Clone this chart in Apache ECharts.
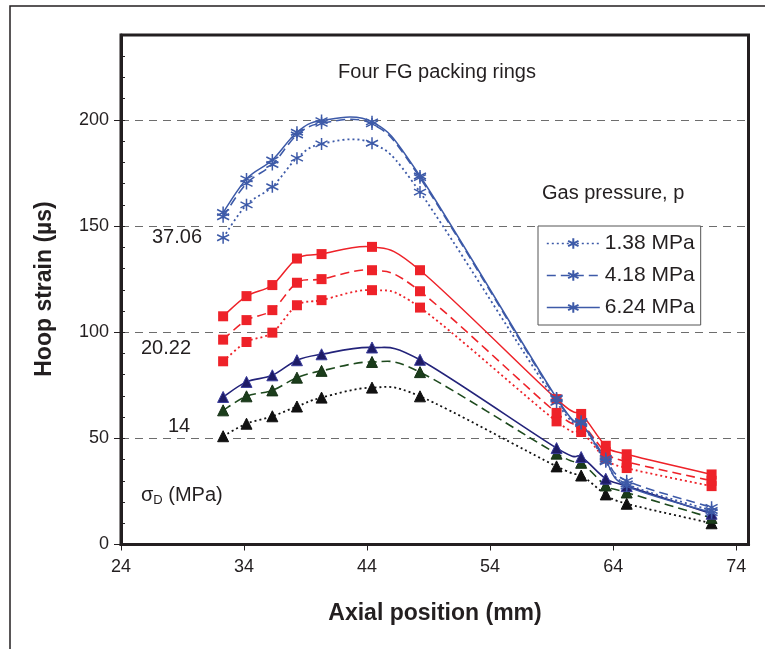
<!DOCTYPE html>
<html>
<head>
<meta charset="utf-8">
<script src="https://cdn.jsdelivr.net/npm/echarts@6/dist/echarts.min.js"></script>
<style>html,body{margin:0;padding:0;background:#fff}#c{width:765px;height:649px}</style>
</head>
<body>
<div id="c"></div>
<script>
// ---- data ----
const axialPos = [32.3, 34.2, 36.3, 38.3, 40.3, 44.4, 48.3, 59.4, 61.4, 63.4, 65.1, 72.0];
// sigma_D = 37.06 MPa (stars)
const s37_p138 = [144.5, 160, 168.5, 182, 188.7, 189, 166, 67, 57, 39, 28.5, 16];
const s37_p418 = [154.4, 170.1, 179, 192.9, 198.4, 198.1, 172.8, 68.5, 58, 40.5, 30, 17.5];
const s37_p624 = [156.4, 172.2, 181.1, 194.2, 199.7, 199.1, 173.6, 69, 57.5, 39.5, 27.5, 15];
// sigma_D = 20.22 MPa (squares)
const s20_p138 = [86.3, 95.4, 99.8, 112.7, 115.1, 119.8, 111.6, 58, 53, 40.5, 36, 27.5];
const s20_p418 = [96.5, 105.7, 110.4, 123.3, 125, 129.2, 119.3, 62, 57, 43.5, 39, 30];
const s20_p624 = [107.5, 117, 122.2, 134.7, 136.8, 140.2, 129.2, 68.5, 61.5, 46.5, 42.5, 33];
// sigma_D = 14 MPa (triangles)
const s14_p138 = [51, 56.9, 60.4, 65, 69.2, 73.9, 69.8, 36.8, 32.5, 23.6, 19.2, 10];
const s14_p418 = [63.2, 69.8, 72.6, 78.6, 81.8, 86, 81.2, 42.8, 38.5, 27.8, 24.5, 12.5];
const s14_p624 = [69.5, 76.6, 79.7, 86.8, 89.6, 92.8, 87, 45.4, 41.2, 31, 27.5, 14.5];
const pressureNames = ['1.38 MPa', '4.18 MPa', '6.24 MPa'];
const xTicks = [24, 34, 44, 54, 64, 74];
const yTicks = [0, 50, 100, 150, 200];
const yMinorTicks = [0,10,20,30,40,50,60,70,80,90,100,110,120,130,140,150,160,170,180,190,200,210,220,230];

// ---- layout / style ----
const G = {left: 121, top: 35, right: 16.5, bottom: 104.5};
const W = 765, H = 649;
const FONT = '"Liberation Sans", Arial, sans-serif';
const TXT = '#231f20';
const BLUE = '#3d5aa8', RED = '#ee2229';
const STAR = 'path://M5,0L5,10M0.67,2.5L9.33,7.5M0.67,7.5L9.33,2.5';
const DOT = [2, 3], DASH = [9, 5];

function pts(ys){ return axialPos.map((x,i)=>[x, ys[i]]); }

// Smoothed (Excel-like, Catmull-Rom) curve drawn through the data via the axis scales
function curve(ys, color, dash, width, z){
  return {type:'custom', silent:true, z, data: pts(ys), clip:true,
    renderItem: function(params, api){
      if (params.dataIndex !== 0) return null;
      const P = axialPos.map((x,i)=>api.coord([x, ys[i]]));
      const n = P.length;
      let d = 'M' + P[0][0].toFixed(2) + ' ' + P[0][1].toFixed(2);
      for (let i = 0; i < n - 1; i++){
        const p0 = P[Math.max(i-1,0)], p1 = P[i], p2 = P[i+1], p3 = P[Math.min(i+2,n-1)];
        const c1 = [p1[0] + (p2[0]-p0[0])/6, p1[1] + (p2[1]-p0[1])/6];
        const c2 = [p2[0] - (p3[0]-p1[0])/6, p2[1] - (p3[1]-p1[1])/6];
        d += ' C' + c1[0].toFixed(2) + ' ' + c1[1].toFixed(2) + ' ' + c2[0].toFixed(2) + ' ' + c2[1].toFixed(2) + ' ' + p2[0].toFixed(2) + ' ' + p2[1].toFixed(2);
      }
      return {type:'path', shape:{pathData:d}, style:{fill:'none', stroke:color, lineWidth:width, lineDash: dash === 'solid' ? null : dash}};
    }};
}
function marks(name, ys, dash, lineColor, symbol, size, itemStyle, z){
  return {name, type:'line', data: pts(ys), z,
    symbol, symbolSize: size, itemStyle,
    lineStyle:{color: lineColor, width: 1.6, type: dash, opacity: 0}};
}

const starStyle = {color: BLUE, borderColor: BLUE, borderWidth: 1.5};
const sqStyle = {color: RED, borderWidth: 0};

const chart = echarts.init(document.getElementById('c'), null, {renderer:'canvas'});
chart.setOption({
  backgroundColor:'#fff',
  animation:false,
  grid:{left:G.left, top:G.top, right:G.right, bottom:G.bottom, containLabel:false},
  xAxis:{type:'value', min:24, max:75, interval:10,
    axisLine:{show:true, lineStyle:{color:TXT, width:3}},
    axisTick:{show:true, customValues: xTicks, length:6, lineStyle:{color:TXT, width:1}},
    axisLabel:{customValues: xTicks, color:TXT, fontSize:18, fontFamily:FONT, margin:14},
    splitLine:{show:false}},
  yAxis:[
    {type:'value', min:0, max:240, interval:50,
      axisLine:{show:true, lineStyle:{color:TXT, width:3}},
      axisTick:{show:true, customValues: yTicks, length:7, lineStyle:{color:TXT, width:1}},
      axisLabel:{customValues: yTicks, color:TXT, fontSize:18, fontFamily:FONT, margin:12},
      splitLine:{show:true, lineStyle:{color:'#6d6d6d', width:1, type:[8,6]}}},
    {type:'value', min:0, max:240, interval:10, position:'left',
      axisLine:{show:false},
      axisTick:{show:true, inside:true, customValues: yMinorTicks, length:4, lineStyle:{color:TXT, width:1}},
      axisLabel:{show:false}, splitLine:{show:false}}
  ],
  legend:{data: pressureNames, orient:'vertical', left:538, top:226,
    padding:[7,6,7,8], itemWidth:53, itemHeight:13, itemGap:11,
    borderColor:'#555', borderWidth:1, backgroundColor:'#fff',
    lineStyle:{opacity:1, width:1.6},
    textStyle:{color:TXT, fontSize:21, fontFamily:FONT, lineHeight:21}},
  graphic:[
    {type:'rect', z:100, silent:true, shape:{x:G.left, y:G.top, width:W-G.left-G.right, height:H-G.top-G.bottom},
      style:{fill:'none', stroke:TXT, lineWidth:3}},
    {type:'rect', z:100, silent:true, shape:{x:10, y:6, width:900, height:800},
      style:{fill:'none', stroke:TXT, lineWidth:1.5}},
    {type:'text', z:100, x:437, y:72, style:{text:'Four FG packing rings', font:'20px '+FONT, fill:TXT, align:'center', verticalAlign:'middle'}},
    {type:'text', z:100, x:542, y:193, style:{text:'Gas pressure, p', font:'20px '+FONT, fill:TXT, align:'left', verticalAlign:'middle'}},
    {type:'text', z:100, x:152, y:237, style:{text:'37.06', font:'20px '+FONT, fill:TXT, align:'left', verticalAlign:'middle'}},
    {type:'text', z:100, x:141, y:348, style:{text:'20.22', font:'20px '+FONT, fill:TXT, align:'left', verticalAlign:'middle'}},
    {type:'text', z:100, x:168, y:426, style:{text:'14', font:'20px '+FONT, fill:TXT, align:'left', verticalAlign:'middle'}},
    {type:'text', z:100, x:141, y:495, style:{text:'{s|σ}{d|D}{s| (MPa)}', fill:TXT, align:'left', verticalAlign:'middle',
      rich:{s:{fontSize:20, fontFamily:FONT, fill:TXT, color:TXT}, d:{fontSize:13, fontFamily:FONT, fill:TXT, color:TXT, padding:[10,0,0,0]}}}},
    {type:'text', z:100, x:435, y:614, style:{text:'Axial position (mm)', font:'bold 23px '+FONT, fill:TXT, align:'center', verticalAlign:'middle'}},
    {type:'text', z:100, x:45, y:289, rotation:Math.PI/2, style:{text:'Hoop strain (µs)', font:'bold 23px '+FONT, fill:TXT, align:'center', verticalAlign:'middle'}}
  ],
  series:[
    curve(s14_p138, '#111111', DOT, 1.8, 2),
    curve(s14_p418, '#1e4a1e', DASH, 1.6, 2),
    curve(s14_p624, '#23237a', 'solid', 1.6, 2),
    curve(s20_p138, RED, DOT, 1.8, 2),
    curve(s20_p418, RED, DASH, 1.6, 2),
    curve(s20_p624, RED, 'solid', 1.5, 2),
    curve(s37_p138, BLUE, DOT, 1.8, 2),
    curve(s37_p418, BLUE, DASH, 1.6, 2),
    curve(s37_p624, BLUE, 'solid', 1.5, 2),
    marks('t1.38', s14_p138, DOT, '#111', 'triangle', 11, {color:'#111111', borderColor:'#111111', borderWidth:1}, 3),
    marks('t4.18', s14_p418, DASH, '#1e4a1e', 'triangle', 11, {color:'#1b3d1b', borderColor:'#163016', borderWidth:1}, 3),
    marks('t6.24', s14_p624, 'solid', '#23237a', 'triangle', 11, {color:'#1e1c66', borderColor:'#3a3c9c', borderWidth:1}, 3),
    marks('r1.38', s20_p138, DOT, RED, 'rect', 10, sqStyle, 3),
    marks('r4.18', s20_p418, DASH, RED, 'rect', 10, sqStyle, 3),
    marks('r6.24', s20_p624, 'solid', RED, 'rect', 10, sqStyle, 3),
    marks(pressureNames[0], s37_p138, DOT, BLUE, STAR, 12, starStyle, 5),
    marks(pressureNames[1], s37_p418, DASH, BLUE, STAR, 12, starStyle, 5),
    marks(pressureNames[2], s37_p624, 'solid', BLUE, STAR, 12, starStyle, 5)
  ]
});
</script>
</body>
</html>
